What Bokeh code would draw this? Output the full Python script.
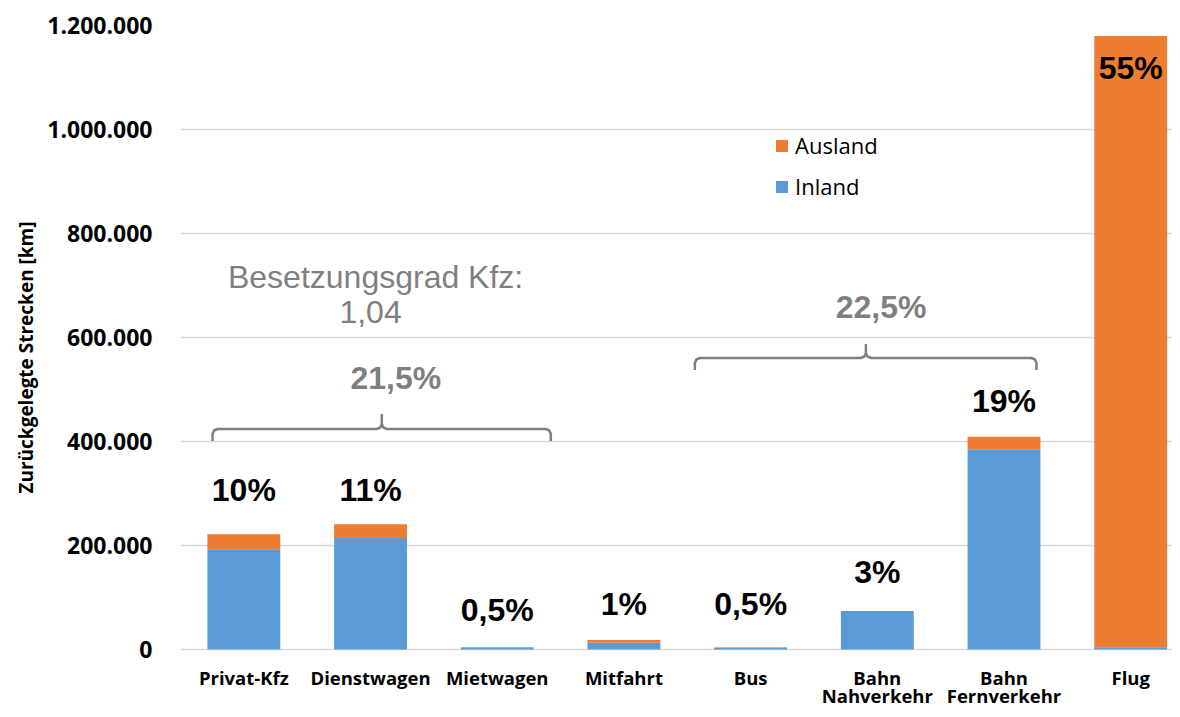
from bokeh.plotting import figure
from bokeh.models import ColumnDataSource, Range1d, FixedTicker, Legend, LegendItem, Title
from bokeh.core.properties import value
from bokeh.embed import file_html
from bokeh.resources import INLINE

# ---- data ----
categories = ["Privat-Kfz", "Dienstwagen", "Mietwagen", "Mitfahrt", "Bus",
              "Bahn\nNahverkehr", "Bahn\nFernverkehr", "Flug"]
inland = [192700, 214400, 4500, 13000, 3500, 74000, 385000, 4200]
ausland = [28800, 26400, 0, 5300, 700, 0, 24200, 1175800]
pct_labels = ["10%", "11%", "0,5%", "1%", "0,5%", "3%", "19%", "55%"]
pct_dy = [-44, -34, -37, -36, -43, -39, -36, 32]   # label offset from bar top, px
y_ticks = [0, 200000, 400000, 600000, 800000, 1000000, 1200000]
y_tick_labels = ["0", "200.000", "400.000", "600.000", "800.000", "1.000.000", "1.200.000"]
y_title = "Zurückgelegte Strecken [km]"

# annotation groups
groups_text = ["21,5%", "22,5%"]
groups_x = [1.2, 5.03]
groups_y = [522000, 658700]
brackets = [  # x0, x1, xmid, y_line, y_tip, y_notch
    (-0.247, 2.423, 1.089, 424000, 401000, 451000),
    (3.56, 6.256, 4.91, 560600, 537500, 585600),
]
note_lines = ["Besetzungsgrad Kfz:", "1,04"]
note_x = [1.04, 1.0]
note_y = [717000, 649000]

BLUE = "#5B9BD5"
ORANGE = "#ED7D31"
GRAY = "#7F7F7F"

x = list(range(len(categories)))
totals = [a + b for a, b in zip(inland, ausland)]
src = ColumnDataSource(dict(x=x, inland=inland, ausland=ausland, total=totals,
                            lab=pct_labels, dy=pct_dy))

# frame spans 25..709 px; 104 px per 200.000 km, so 0 sits at ~649 px
Y_TOP = 1200000
Y_BOTTOM = Y_TOP - 684 * 200000 / 104

p = figure(width=1172, height=709, output_backend="svg", toolbar_location=None,
           x_range=Range1d(-0.5, 7.33), y_range=Range1d(Y_BOTTOM, Y_TOP),
           min_border_left=180, min_border_right=0, min_border_top=25,
           min_border_bottom=0)
p.outline_line_color = None
p.xgrid.grid_line_color = None
p.ygrid.grid_line_color = "#D9D9D9"
p.ygrid.grid_line_width = 1.3
p.ygrid.ticker = FixedTicker(ticks=y_ticks)

rs = p.vbar_stack(["inland", "ausland"], x="x", width=0.575, color=[BLUE, ORANGE],
                  line_color=None, source=src)

p.text(x="x", y="total", text="lab", y_offset="dy", source=src,
       text_align="center", text_baseline="middle", text_color="black",
       text_font=value("Liberation Sans"), text_font_style="bold",
       text_font_size="32px")

# group brackets
rx = 0.04
ry = 9600
for (x0, x1, xm, yl, yt, yn) in brackets:
    xs = [x0, x0, x0 + rx * 0.3, x0 + rx, xm - rx, xm - rx * 0.3, xm, xm,
          xm, xm + rx * 0.3, xm + rx, x1 - rx, x1 - rx * 0.3, x1, x1]
    ys = [yt, yl - ry, yl - ry * 0.3, yl, yl, yl + ry * 0.3, yl + ry, yn,
          yl + ry, yl + ry * 0.3, yl, yl, yl - ry * 0.3, yl - ry, yt]
    p.line(xs, ys, line_color=GRAY, line_width=2.5, line_join="round")

p.text(x=groups_x, y=groups_y, text=groups_text, text_align="center",
       text_baseline="middle", text_color=GRAY, text_font=value("Liberation Sans"),
       text_font_style="bold", text_font_size="32px")
p.text(x=note_x, y=note_y, text=note_lines, text_align="center",
       text_baseline="middle", text_color=GRAY, text_font=value("Liberation Sans"),
       text_font_size="32px")

# category labels (below the zero line)
cx, cy, ct, cdy = [], [], [], []
for i, c in enumerate(categories):
    for j, ln in enumerate(c.split("\n")):
        cx.append(i)
        cy.append(0)
        ct.append(ln)
        cdy.append(28 + 18 * j)
p.text(x=cx, y=cy, text=ct, y_offset=cdy, text_align="center",
       text_baseline="alphabetic", text_color="black",
       text_font=value("Open Sans"), text_font_style="bold", text_font_size="18.5px")

# y axis
p.yaxis.ticker = FixedTicker(ticks=y_ticks)
p.yaxis.major_label_overrides = {t: l for t, l in zip(y_ticks, y_tick_labels)}
p.yaxis.major_label_text_font = "Open Sans"
p.yaxis.major_label_text_font_style = "bold"
p.yaxis.major_label_text_font_size = "23px"
p.yaxis.major_label_text_color = "black"
p.yaxis.major_label_standoff = 22
p.yaxis.axis_line_color = None
p.yaxis.major_tick_line_color = None
p.yaxis.minor_tick_line_color = None
p.xaxis.visible = False

p.add_layout(Title(text=y_title, align="left", offset=216, standoff=12,
                   text_font="Open Sans", text_font_style="bold",
                   text_font_size="19px", text_color="black"), "left")

legend = Legend(items=[LegendItem(label="Ausland", renderers=[rs[1]]),
                       LegendItem(label="Inland", renderers=[rs[0]])],
                location=(594, 508), orientation="vertical")
legend.label_text_font = "Open Sans"
legend.label_text_font_size = "22px"
legend.label_text_color = "black"
legend.glyph_width = 15
legend.glyph_height = 15
legend.label_height = 24
legend.spacing = 11
legend.padding = 0
legend.margin = 0
legend.label_standoff = 6
legend.border_line_color = None
legend.background_fill_alpha = 0
p.add_layout(legend)

open("out.html", "w").write(file_html(p, INLINE))
